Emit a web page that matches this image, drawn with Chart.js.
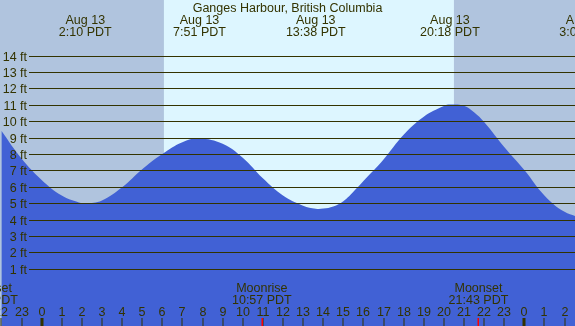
<!DOCTYPE html>
<html>
<head>
<meta charset="utf-8">
<script src="https://cdn.jsdelivr.net/npm/chart.js@4"></script>
<style>
  html, body { margin: 0; padding: 0; background: #ffffff; }
  canvas { display: block; }
</style>
</head>
<body>
<canvas id="tideChart" width="575" height="326"></canvas>
<script>
// tide height (hours from Aug 13 00:00 PDT, feet)
const hours = [-2, -1, 0, 1, 2, 2.17, 3, 4, 5, 6, 7, 7.85, 9, 10, 11, 12, 13, 13.63, 14, 14.5, 15, 15.5, 16, 17, 18, 19, 20, 20.3, 21, 21.5, 22, 23, 24, 25, 26, 27];
const tideFt = [9.45, 7.75, 6.45, 5.5, 5.02, 5.0, 5.2, 6.0, 7.1, 8.03, 8.75, 8.98, 8.65, 7.8, 6.55, 5.5, 4.88, 4.69, 4.7, 4.83, 5.15, 5.73, 6.38, 7.7, 9.2, 10.3, 10.95, 11.04, 10.97, 10.57, 9.98, 8.45, 7.05, 5.5, 4.5, 4.1];

// high / low tide labels along the top
const tideTimes = [2.17, 7.85, 13.63, 20.3, 27.05];
const tideDates = ["Aug 13", "Aug 13", "Aug 13", "Aug 13", "Aug 14"];
const tideClock = ["2:10 PDT", "7:51 PDT", "13:38 PDT", "20:18 PDT", "3:03 PDT"];

// moon events along the bottom
const moonTimes = [-2.67, 10.95, 21.72];
const moonNames = ["Moonset", "Moonrise", "Moonset"];
const moonClock = ["21:20 PDT", "10:57 PDT", "21:43 PDT"];

// sunrise / sunset (daylight band)
const sunrise = 6.08;
const sunset = 20.5;

const feetTicks = [1, 2, 3, 4, 5, 6, 7, 8, 9, 10, 11, 12, 13, 14];
const hourTicks = [-2, -1, 0, 1, 2, 3, 4, 5, 6, 7, 8, 9, 10, 11, 12, 13, 14, 15, 16, 17, 18, 19, 20, 21, 22, 23, 24, 25, 26];

const textColor = "#333300";
const fontName = "'Liberation Sans', Arial, sans-serif";

const tideDecor = {
  id: "tideDecor",
  beforeDatasetsDraw(chart) {
    const { ctx, chartArea, scales: { x } } = chart;
    ctx.save();
    ctx.fillStyle = "#b0c4de";
    ctx.fillRect(chartArea.left, chartArea.top, chartArea.right - chartArea.left, chartArea.bottom - chartArea.top);
    const x1 = x.getPixelForValue(sunrise);
    const x2 = x.getPixelForValue(sunset);
    ctx.fillStyle = "#ddf6ff";
    ctx.fillRect(x1, chartArea.top, x2 - x1, chartArea.bottom - chartArea.top);
    ctx.restore();
  },
  afterDatasetsDraw(chart) {
    const { ctx, chartArea, scales: { x, y } } = chart;
    ctx.save();

    // horizontal feet lines + labels
    ctx.strokeStyle = textColor;
    ctx.lineWidth = 1;
    ctx.fillStyle = textColor;
    ctx.font = "12.5px " + fontName;
    ctx.textAlign = "right";
    ctx.textBaseline = "alphabetic";
    feetTicks.forEach((ft) => {
      const py = Math.floor(y.getPixelForValue(ft)) + 0.5;
      ctx.beginPath();
      ctx.moveTo(29, py);
      ctx.lineTo(chartArea.right, py);
      ctx.stroke();
      ctx.fillText(ft + " ft", 27, py + 4.5);
    });

    // title and tide times
    ctx.textAlign = "center";
    ctx.fillText("Ganges Harbour, British Columbia", (chartArea.left + chartArea.right) / 2, 12);
    tideTimes.forEach((t, i) => {
      const px = x.getPixelForValue(t);
      ctx.fillText(tideDates[i], px, 24);
      ctx.fillText(tideClock[i], px, 36);
    });

    // moon events
    moonTimes.forEach((t, i) => {
      const px = x.getPixelForValue(t);
      ctx.fillText(moonNames[i], px, 292);
      ctx.fillText(moonClock[i], px, 304);
    });

    // hour numbers and ticks
    hourTicks.forEach((h) => {
      const px = Math.round(x.getPixelForValue(h));
      const label = ((h % 24) + 24) % 24;
      ctx.fillStyle = textColor;
      ctx.fillText(String(label), px, 316);
      if (label === 0) {
        ctx.fillRect(px - 1.5, 318, 3, 8);
      } else {
        ctx.fillRect(px - 0.5, 318, 1, 8);
      }
    });
    ctx.fillStyle = "#ff0000";
    moonTimes.forEach((t) => {
      const px = Math.round(x.getPixelForValue(t));
      ctx.fillRect(px - 0.5, 318, 1.5, 8);
    });

    ctx.restore();
  }
};

new Chart(document.getElementById("tideChart"), {
  type: "line",
  data: {
    datasets: [{
      data: hours.map((h, i) => ({ x: h, y: tideFt[i] })),
      fill: "start",
      backgroundColor: "#4161d5",
      borderWidth: 0,
      pointRadius: 0,
      tension: 0.4
    }]
  },
  options: {
    responsive: false,
    animation: false,
    layout: { padding: 0 },
    plugins: { legend: { display: false }, tooltip: { enabled: false } },
    scales: {
      x: { type: "linear", min: -2.07, max: 26.52, display: false },
      y: { type: "linear", min: -2.46, max: 17.42, display: false }
    }
  },
  plugins: [tideDecor]
});
</script>
</body>
</html>
